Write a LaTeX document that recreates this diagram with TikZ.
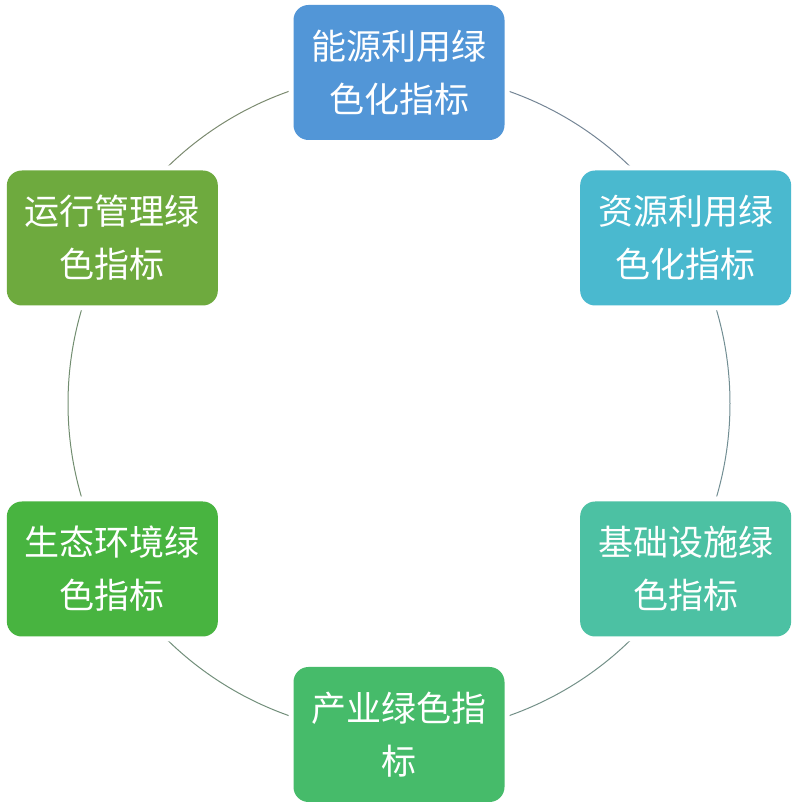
\documentclass[tikz,border=0pt]{standalone}
\usepackage{fontspec}
\setmainfont{Noto Sans CJK SC}
\usepackage{xcolor}
\usepackage{tikz}
\usetikzlibrary{calc, backgrounds}

\definecolor{cNengyuan}{RGB}{82,150,215}
\definecolor{cZiyuan}{RGB}{74,185,207}
\definecolor{cJichu}{RGB}{76,193,163}
\definecolor{cChanye}{RGB}{70,187,106}
\definecolor{cShengtai}{RGB}{72,180,64}
\definecolor{cYunxing}{RGB}{110,170,62}

\tikzset{
  indbox/.style={rounded corners=15pt, minimum width=211pt, minimum height=135pt,
    inner sep=0pt, text width=190pt, align=center, text=white,
    font=\fontsize{35}{53}\selectfont,
    preaction={draw=white, line width=10pt}},
  ringline/.style={line width=1pt}
}

\begin{document}
\begin{tikzpicture}[x=1pt, y=1pt]
\useasboundingbox (0,0) rectangle (800,809);
\coordinate (c) at (399,405.5);

\node[indbox, fill=cNengyuan] (nengyuan) at ($(c)+(90:331)$) {能源利用绿\\色化指标};
\node[indbox, fill=cZiyuan] (ziyuan) at ($(c)+(30:331)$) {资源利用绿\\色化指标};
\node[indbox, fill=cJichu] (jichu) at ($(c)+(-30:331)$) {基础设施绿\\色指标};
\node[indbox, fill=cChanye] (chanye) at ($(c)+(-90:331)$) {产业绿色指\\标};
\node[indbox, fill=cShengtai] (shengtai) at ($(c)+(-150:331)$) {生态环境绿\\色指标};
\node[indbox, fill=cYunxing] (yunxing) at ($(c)+(150:331)$) {运行管理绿\\色指标};

% ring between the boxes
\begin{scope}[on background layer]
\draw[ringline, cNengyuan!25!gray] (nengyuan.center) arc[start angle=90, end angle=30, radius=331pt];
\draw[ringline, cZiyuan!25!gray] (ziyuan.center) arc[start angle=30, end angle=-30, radius=331pt];
\draw[ringline, cJichu!25!gray] (jichu.center) arc[start angle=-30, end angle=-90, radius=331pt];
\draw[ringline, cChanye!25!gray] (chanye.center) arc[start angle=-90, end angle=-150, radius=331pt];
\draw[ringline, cShengtai!25!gray] (shengtai.center) arc[start angle=-150, end angle=-210, radius=331pt];
\draw[ringline, cYunxing!25!gray] (yunxing.center) arc[start angle=150, end angle=90, radius=331pt];
\end{scope}
\end{tikzpicture}
\end{document}
